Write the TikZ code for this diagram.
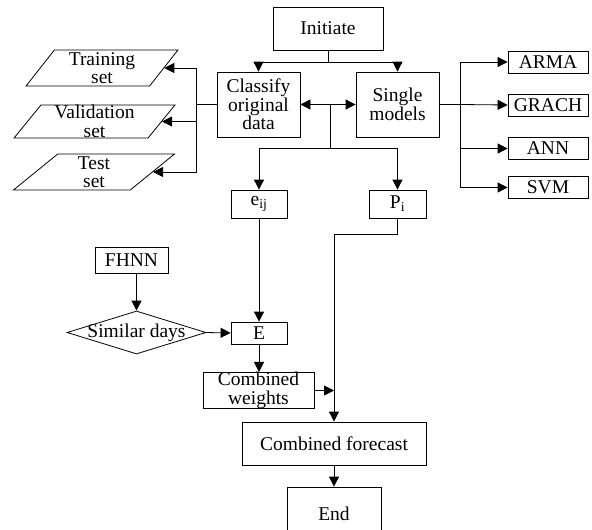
\documentclass[tikz,border=0pt]{standalone}
\usepackage{fontspec}
\setmainfont{Liberation Serif}
\usetikzlibrary{arrows.meta,shapes.geometric,calc}
\tikzset{
  box/.style={draw, rectangle, inner sep=0pt, align=center, line width=0.8pt},
  pgram/.style={draw, trapezium, trapezium left angle=58, trapezium right angle=122,
    trapezium stretches=true, inner sep=0pt, align=center, line width=0.8pt},
  line/.style={line width=0.8pt},
  arr/.style={line width=0.8pt, -{Triangle[length=10pt,width=10pt]}},
  arrb/.style={line width=0.8pt, {Triangle[length=10pt,width=10pt]}-{Triangle[length=10pt,width=10pt]}},
}
\begin{document}
\begin{tikzpicture}[x=1pt,y=-1pt,font=\fontsize{19.5}{18.5}\selectfont]
\useasboundingbox (0,0) rectangle (592,530);
\clip (0,0) rectangle (592,530);
% nodes
\node[box, minimum width=110, minimum height=43] (init) at (328,28.5) {Initiate};
\node[box, minimum width=83, minimum height=65] (cls) at (258.5,104.5) {Classify\\original\\data};
\node[box, minimum width=83, minimum height=65] (single) at (397.5,104.5) {Single\\models};
\node[box, minimum width=80, minimum height=22] (arma) at (548,62) {ARMA};
\node[box, minimum width=80, minimum height=22] (grach) at (548,105) {GRACH};
\node[box, minimum width=80, minimum height=22] (ann) at (548,148.5) {ANN};
\node[box, minimum width=80, minimum height=22] (svm) at (548,187.5) {SVM};
\node[pgram, minimum width=152, minimum height=36] (train) at (102,68) {Training\\set};
\node[pgram, minimum width=161, minimum height=33] (val) at (94.5,121.5) {Validation\\set};
\node[pgram, minimum width=162, minimum height=36] (test) at (94,172) {Test\\set};
\node[box, minimum width=56, minimum height=28] (eij) at (259,204) {e\textsubscript{ij}};
\node[box, minimum width=57, minimum height=28] (pi) at (397.5,204) {P\textsubscript{i}};
\node[box, minimum width=73, minimum height=26] (fhnn) at (131.5,260) {FHNN};
\node[draw, diamond, line width=0.8pt, minimum width=139, minimum height=43, inner sep=0pt,
  label={center:Similar days}] (sim) at (136.5,332.5) {};
\node[box, minimum width=56, minimum height=22] (E) at (259,333) {E};
\node[box, minimum width=111, minimum height=35] (w) at (258.5,390.5) {Combined\\weights};
\node[box, minimum width=184, minimum height=43] (fc) at (334,443.5) {Combined forecast};
\node[box, minimum width=94, minimum height=53] (end) at (334,513.5) {End};
% coordinates
\coordinate (top) at (328,62);
\coordinate (bot) at (330,148);
\coordinate (mid) at (bot |- cls.east);
\coordinate (jl) at (196,104.5);
\coordinate (jr) at (460,104.5);
% connectors
\draw[line] (init.south) -- (top);
\draw[arr] (top) -| (cls.north);
\draw[arr] (top) -| (single.north);
\draw[arrb] (cls.east) -- (single.west);
\draw[line] (mid) -- (bot);
\draw[arr] (bot) -| (eij.north);
\draw[arr] (bot) -| (pi.north);
\draw[line] (cls.west) -- (jl);
\draw[arr] (jl) |- (train.right side);
\draw[arr] (jl) |- (val.right side);
\draw[arr] (jl) |- (test.right side);
\draw[line] (single.east) -- (jr);
\draw[arr] (jr) |- (arma.west);
\draw[arr] (jr) -- (grach.west);
\draw[arr] (jr) |- (ann.west);
\draw[arr] (jr) |- (svm.west);
\draw[arr] (sim.north |- fhnn.south) -- (sim.north);
\draw[arr] (sim.east) -- (E.west);
\draw[arr] (eij.south) -- (E.north);
\draw[arr] (E.south) -- (E.south |- w.north);
\draw[arr] (pi.south) -- ++(0,16) -| (fc.north);
\draw[arr] (w.east) -- (fc.north |- w.east);
\draw[arr] (fc.south) -- (end.north);
\end{tikzpicture}
\end{document}
